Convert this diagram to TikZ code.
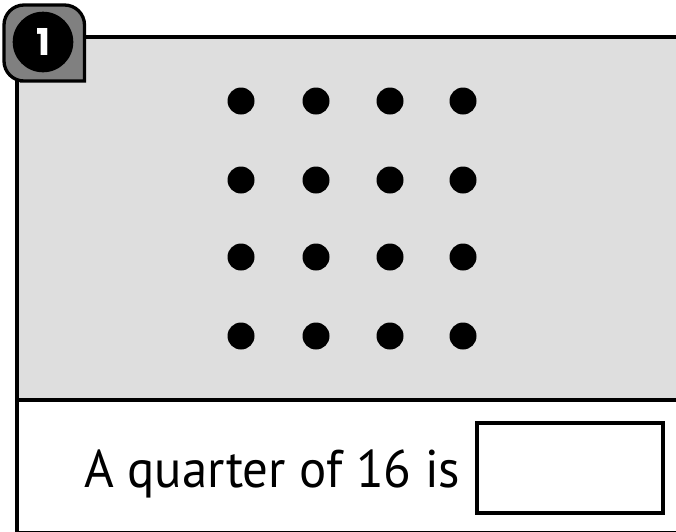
\documentclass[tikz,border=0pt]{standalone}
\usepackage{fontspec}
\setmainfont{PT Sans}[FakeStretch=0.96]
\newfontfamily\numfont{Poppins}
\usetikzlibrary{positioning}
\definecolor{wsgrey}{RGB}{222,222,222}
\definecolor{wsbadge}{RGB}{128,128,128}

\begin{document}
\begin{tikzpicture}[x=1pt,y=-1pt,every node/.style={inner sep=0pt,outer sep=0pt}]
    \useasboundingbox (0,0) rectangle (676,531);
    % question panel: dots on grey, sentence below
    \node[fill=wsgrey,minimum width=663pt,minimum height=363pt,anchor=north west] (panel) at (17,37) {};
    \draw[line width=4pt] (17,535) -- (17,37) -- (680,37);
    \draw[line width=4pt] (17,400) -- (680,400);
    \draw[line width=4pt] (17,532.6) -- (680,532.6);
    \foreach \i/\x in {1/241,2/316,3/390,4/463}
      \foreach \j/\y in {1/101,2/180,3/257,4/336}
        \fill (\x,\y) circle[radius=13.5pt];
    % badge with question number
    \draw[line width=3.3pt,fill=wsbadge] (84.5,81) -- (84.5,40) [rounded corners=20pt] -- (84.5,5) -- (4,5) -- (4,81) -- (40,81) [sharp corners] -- (84.5,81) -- cycle;
    \node[circle,fill=black,minimum size=60.6pt] (badge) at (43,42) {};
    \node[text=white,font=\numfont\fontsize{37}{37}\selectfont\bfseries,anchor=base] at (43,55) {1};
    % sentence and answer box
    \node[anchor=base west,font=\fontsize{53}{53}\selectfont] (txt) at (84,487) {A quarter of 16 is};
    \node[draw,line width=4pt,minimum width=186pt,minimum height=90pt] (ans) at (570,468) {};
  \end{tikzpicture}
\end{document}
